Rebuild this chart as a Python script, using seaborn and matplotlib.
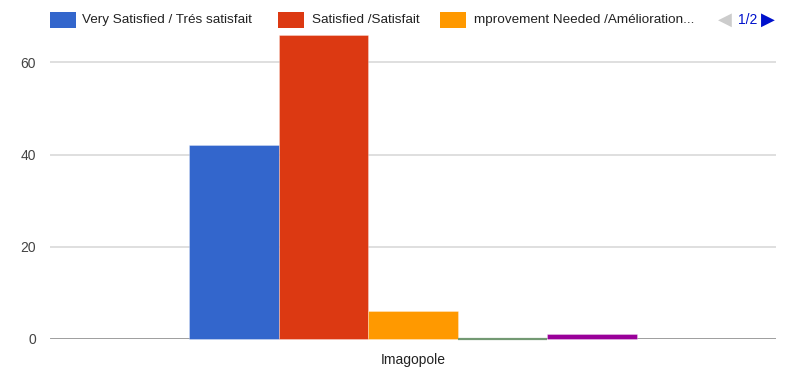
import matplotlib
matplotlib.use("Agg")
import matplotlib.pyplot as plt
from matplotlib.patches import Rectangle
import pandas as pd
import seaborn as sns

# Survey responses for one site
categories = ["Imagopole"]
series = [
    "Very Satisfied / Trés satisfait",
    "Satisfied /Satisfait",
    "Improvement Needed /Amélioration nécessaire",
    "Unsatisfied / Insatisfait",
    "No Answer / Sans réponse",
]
values = [42, 66, 6, 0, 1]
colors = ["#3366cc", "#dc3912", "#ff9900", "#109618", "#990099"]
legend_labels = [
    "Very Satisfied / Trés satisfait",
    "Satisfied /Satisfait",
    "mprovement Needed /Amélioration...",
]
y_ticks = [0, 20, 40, 60]

df = pd.DataFrame({
    "site": categories * len(series),
    "series": series,
    "count": values,
})

sns.set_theme(style="white")
plt.rcParams["font.family"] = ["Liberation Sans Narrow", "Liberation Sans", "DejaVu Sans"]

fig = plt.figure(figsize=(7.86, 3.76), dpi=100)
ax = fig.add_axes([50 / 786, 1 - 339 / 376, 726 / 786, 309 / 376])

sns.barplot(
    data=df, x="site", y="count", hue="series", hue_order=series,
    palette=colors, width=0.617, gap=0, ax=ax, legend=False,
    saturation=1, errorbar=None,
)

ax.set_xlim(-0.5, 0.5)
ax.set_ylim(0, 67)
ax.set_yticks(y_ticks)
ax.yaxis.grid(True, color="#d9d9d9", linewidth=1.2)
ax.set_axisbelow(True)
for s in ax.spines.values():
    s.set_visible(False)
ax.axhline(0, color="#999999", linewidth=2, zorder=2)

# Thin light outline on each bar; zero-height bars still show as a line
for patch in ax.patches:
    fc = patch.get_facecolor()
    if patch.get_height() == 0:
        patch.set_edgecolor((0.45, 0.6, 0.45, 1))
        patch.set_linewidth(1.6)
    else:
        patch.set_edgecolor((1, 1, 1, 0.35))
        patch.set_linewidth(0.6)
    patch.set_zorder(4)
    patch.set_clip_on(False)

ax.tick_params(axis="y", length=0, pad=10, labelsize=10, labelcolor="#444444")
ax.tick_params(axis="x", length=0, pad=10, labelsize=10, labelcolor="#222222")
ax.set_xlabel("")
ax.set_ylabel("")

# Paged legend across the top
sw, sh = 26 / 786, 16 / 376
ytop = 1 - 28 / 376
for (x0, tx), lab, col in zip([(50, 82), (278, 312), (440, 474)], legend_labels, colors):
    fig.patches.append(Rectangle((x0 / 786, ytop), sw, sh, transform=fig.transFigure,
                                 facecolor=col, edgecolor="none"))
    fig.text(tx / 786, ytop + sh / 2, lab, ha="left", va="center",
             fontsize=9.7, color="#222222")

fig.text(718 / 786, ytop + sh / 2, "◀", ha="left", va="center", fontsize=13,
         color="#cccccc", family="DejaVu Sans")
fig.text(738 / 786, ytop + sh / 2, "1/2", ha="left", va="center", fontsize=10,
         color="#0011cc")
fig.text(761 / 786, ytop + sh / 2, "▶", ha="left", va="center", fontsize=13,
         color="#0011cc", family="DejaVu Sans")

fig.savefig("out.png", dpi=100, facecolor="white")
